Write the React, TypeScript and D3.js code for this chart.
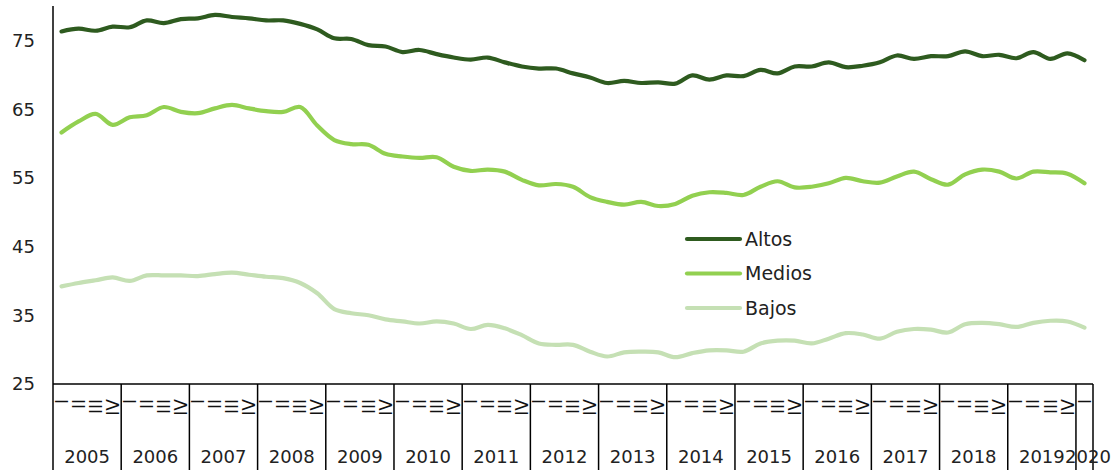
import * as d3 from 'd3'

const years = ['2005', '2006', '2007', '2008', '2009', '2010', '2011', '2012', '2013', '2014', '2015', '2016', '2017', '2018', '2019', '2020']
const quarterLabels = ['I', 'II', 'III', 'IV']
const yTicks = [25, 35, 45, 55, 65, 75]

const altos = [
  76.3, 76.7, 76.4, 77.0, 76.9, 77.9, 77.5, 78.1, 78.2, 78.7, 78.4, 78.2,
  77.9, 77.9, 77.4, 76.6, 75.3, 75.2, 74.3, 74.1, 73.3, 73.6, 73.0, 72.5,
  72.2, 72.5, 71.8, 71.2, 70.9, 70.9, 70.2, 69.6, 68.8, 69.1, 68.8, 68.9,
  68.7, 69.9, 69.3, 69.9, 69.8, 70.7, 70.2, 71.2, 71.2, 71.8, 71.1, 71.3,
  71.8, 72.8, 72.3, 72.7, 72.7, 73.4, 72.7, 72.9, 72.4, 73.3, 72.3, 73.1,
  72.1
]
const medios = [
  61.6, 63.2, 64.3, 62.7, 63.8, 64.1, 65.3, 64.6, 64.4, 65.1, 65.6, 65.1,
  64.7, 64.6, 65.3, 62.6, 60.5, 59.9, 59.8, 58.5, 58.1, 57.9, 58.0, 56.6,
  56.0, 56.2, 55.9, 54.7, 53.9, 54.1, 53.7, 52.2, 51.5, 51.1, 51.5, 50.9,
  51.2, 52.4, 52.9, 52.8, 52.5, 53.7, 54.5, 53.6, 53.7, 54.2, 55.0, 54.5,
  54.3, 55.2, 55.9, 54.8, 54.0, 55.5, 56.2, 55.9, 54.9, 55.9, 55.8, 55.6,
  54.2
]
const bajos = [
  39.2, 39.7, 40.1, 40.5, 40.0, 40.8, 40.8, 40.8, 40.7, 41.0, 41.2, 40.9,
  40.6, 40.4, 39.7, 38.2, 35.9, 35.3, 35.0, 34.4, 34.1, 33.8, 34.1, 33.8,
  33.0, 33.6, 33.1, 32.1, 30.9, 30.7, 30.7, 29.7, 29.0, 29.6, 29.7, 29.6,
  28.9, 29.5, 29.9, 29.9, 29.7, 30.9, 31.3, 31.3, 30.9, 31.6, 32.4, 32.2,
  31.6, 32.6, 33.0, 32.9, 32.5, 33.7, 33.9, 33.7, 33.3, 33.9, 34.2, 34.1,
  33.2
]

const series = [
  { name: 'Altos', values: altos, color: '#2e5b1f' },
  { name: 'Medios', values: medios, color: '#92d050' },
  { name: 'Bajos', values: bajos, color: '#c5e0b4' }
]

// quarter keys, 2020 only has the first quarter
const periods = years.flatMap(y => (y === '2020' ? ['I'] : quarterLabels).map(q => ({ year: y, q, key: `${y}-${q}` })))

const FONT = '"DejaVu Sans", sans-serif'

export default function App() {
  const width = 1112
  const height = 470
  const axisY = 384

  const x = d3.scaleBand<string>().domain(periods.map(p => p.key)).range([53, 1093]).padding(0)
  const y = d3.scaleLinear().domain([25, 80]).range([axisY, 6])

  const line = d3
    .line<number>()
    .x((_, i) => (x(periods[i].key) ?? 0) + x.bandwidth() / 2)
    .y(d => y(d))
    .curve(d3.curveCatmullRom.alpha(0.5))

  const yearSpans = years.map(yr => {
    const ps = periods.filter(p => p.year === yr)
    const start = x(ps[0].key) ?? 0
    const end = (x(ps[ps.length - 1].key) ?? 0) + x.bandwidth()
    return { yr, start, end }
  })

  return (
    <svg width={width} height={height} style={{ position: 'absolute', left: 0, top: 0, background: '#fff' }} fontFamily={FONT}>
      {/* y tick labels */}
      {yTicks.map(t => (
        <text key={t} x={35} y={y(t)} dy="0.36em" textAnchor="end" fontSize={18} fill="#222">
          {t}
        </text>
      ))}

      {/* series */}
      {series.map(s => (
        <path key={s.name} d={line(s.values) ?? ''} fill="none" stroke={s.color} strokeWidth={4.2} strokeLinecap="round" strokeLinejoin="round" />
      ))}

      {/* axes frame */}
      <line x1={53} x2={53} y1={y(80)} y2={height} stroke="#000" strokeWidth={1.5} />
      <line x1={53} x2={1093} y1={axisY} y2={axisY} stroke="#000" strokeWidth={1.5} />
      {yearSpans.map(s => (
        <line key={'b' + s.yr} x1={s.end} x2={s.end} y1={axisY} y2={height} stroke="#000" strokeWidth={1.5} />
      ))}

      {/* quarter labels */}
      {periods.map(p => {
        const cx = (x(p.key) ?? 0) + x.bandwidth() / 2
        return (
          <text key={p.key} transform={`translate(${cx},399) rotate(-90)`} dy="0.36em" textAnchor="end" fontSize={17} fill="#111">
            {p.q}
          </text>
        )
      })}

      {/* year labels (the one-quarter 2020 cell is too narrow, nudge its label right) */}
      {yearSpans.map(s => (
        <text
          key={s.yr}
          x={(s.start + s.end) / 2 + (s.end - s.start < 30 ? 3.5 : 0)}
          y={463}
          textAnchor="middle"
          fontSize={18}
          fill="#222"
        >
          {s.yr}
        </text>
      ))}

      {/* legend */}
      {series.map((s, i) => (
        <g key={'lg' + s.name} transform={`translate(687,${239 + i * 34.5})`}>
          <line x1={0} x2={53} y1={0} y2={0} stroke={s.color} strokeWidth={4.2} strokeLinecap="round" />
          <text x={58} y={0} dy="0.36em" fontSize={19} fill="#222">
            {s.name}
          </text>
        </g>
      ))}
    </svg>
  )
}
